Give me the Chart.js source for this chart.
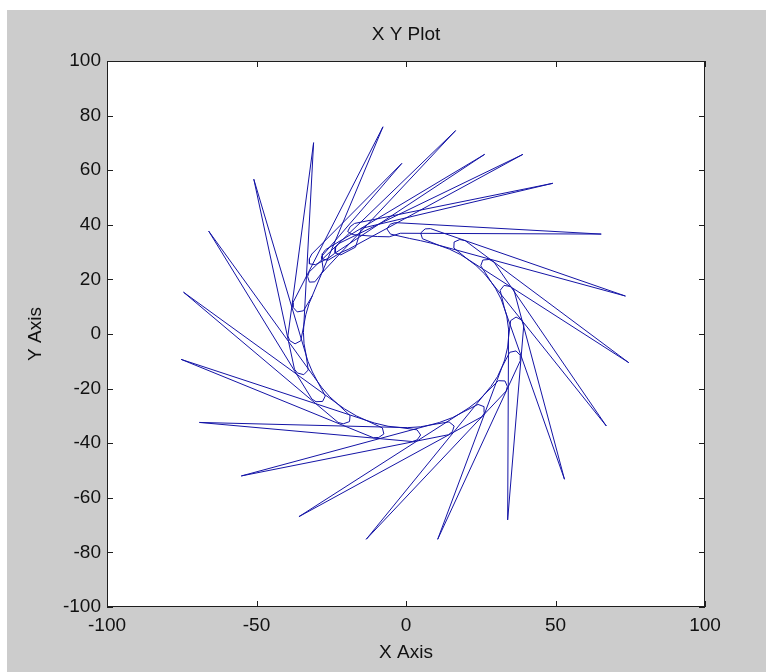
<!DOCTYPE html>
<html>
<head>
<meta charset="utf-8">
<title>X Y Plot</title>
<script src="https://cdn.jsdelivr.net/npm/chart.js@4/dist/chart.umd.min.js"></script>
<style>
  html, body { margin: 0; padding: 0; background: #ffffff; }
  #plot { display: block; }
</style>
</head>
<body>
<canvas id="plot" width="766" height="672"></canvas>
<script>
// texts
const chartTitle = 'X Y Plot';
const xTitle = 'X Axis';
const yTitle = 'Y Axis';

// tick labels
const xTicks = [-100, -50, 0, 50, 100];
const yTicks = [-100, -80, -60, -40, -20, 0, 20, 40, 60, 80, 100];

// the trace, read off the picture petal by petal, clockwise:
// inner edge start, outer tip, outer edge end, rounded turn (3 pts), points on the inner circle
const xValues = [
  -28.7, 16.6, -32.4, -32.9, -32.3, -30.5, -27.6,
  -28.3, -1.4, -31.5, -32.3, -32.3, -30.3, -25.9,
  -23.9, 26.3, -26.9, -27.9, -28.0, -26.1, -21.7,
  -19.3, 39.1, -22.4, -23.5, -23.7, -21.8, -16.9,
  -14.9, 49.1, -17.2, -18.7, -19.5, -17.8, -9.6, -5.6,
  -1.9, 65.3, -3.6, -5.3, -6.4, -5.2, 1.2, 4.8,
  8.3, 73.4, 8.2, 6.4, 4.9, 5.5, 11.2, 14.5,
  18.2, 74.5, 19.8, 18.0, 16.1, 16.0, 20.6, 23.4,
  26.3, 67.0, 29.4, 27.8, 25.7, 25.0, 28.1, 30.0,
  31.8, 53.0, 36.1, 34.9, 32.8, 31.5, 32.8, 33.7,
  34.3, 34.0, 39.4, 38.7, 36.8, 35.0, 34.3, 34.0,
  33.0, 10.6, 38.3, 38.2, 36.8, 34.7, 32.0, 30.6,
  28.4, -13.3, 33.5, 33.9, 33.1, 30.9, 26.7, 24.3,
  21.1, -35.8, 25.4, 26.3, 26.1, 24.1, 18.7, 15.6,
  11.2, -55.1, 14.2, 15.5, 16.1, 14.4, 8.3, 4.8,
  0.6, -69.1, 2.1, 3.7, 4.9, 3.7, -2.4, -6.0,
  -10.6, -75.2, -10.9, -9.1, -7.4, -7.9, -13.4, -16.6,
  -20.6, -74.4, -22.7, -21.0, -18.9, -18.7, -23.0, -25.5,
  -28.1, -66.0, -31.5, -30.1, -27.9, -27.0, -29.7, -31.3,
  -32.8, -50.9, -37.3, -36.3, -34.2, -32.7, -33.5, -34.1,
  -34.3, -30.9, -39.5, -38.9, -37.1, -35.2, -34.1, -33.5,
  -32.4, -7.7, -37.8, -37.8, -36.4, -34.3, -31.3
];
const yValues = [
  21.7, 74.5, 22.7, 21.0, 19.0, 19.1, 23.1,
  28.3, 62.5, 29.3, 27.6, 25.7, 25.4, 27.8,
  29.5, 65.8, 30.9, 29.4, 27.5, 27.0, 29.9,
  31.0, 65.8, 33.2, 31.8, 29.7, 29.0, 31.8,
  38.7, 55.2, 40.5, 39.3, 37.5, 36.4, 35.7, 35.6,
  36.9, 36.6, 40.8, 40.2, 38.5, 36.6, 35.0, 34.2,
  33.3, 13.9, 38.6, 38.5, 37.0, 34.9, 32.4, 31.1,
  29.1, -10.5, 34.2, 34.6, 33.7, 31.5, 27.4, 25.1,
  22.0, -33.7, 26.4, 27.3, 27.1, 25.0, 19.7, 16.6,
  12.8, -53.2, 16.1, 17.4, 17.8, 16.0, 10.0, 6.5,
  1.8, -68.1, 3.4, 5.1, 6.2, 4.9, -1.2, -4.8,
  -9.5, -75.2, -9.6, -7.8, -6.2, -6.7, -12.3, -15.6,
  -19.2, -75.2, -20.9, -19.2, -17.2, -17.1, -21.6, -24.3,
  -27.0, -66.9, -30.3, -28.8, -26.6, -25.8, -28.8, -30.6,
  -32.4, -52.0, -36.9, -35.8, -33.7, -32.2, -33.3, -34.0,
  -34.3, -32.4, -39.4, -38.8, -37.0, -35.1, -34.2, -33.8,
  -32.6, -9.3, -38.0, -37.9, -36.6, -34.4, -31.6, -30.0,
  -27.4, 15.3, -32.4, -32.9, -32.1, -29.9, -25.5, -23.0,
  -19.7, 37.7, -23.8, -24.8, -24.7, -22.7, -17.2, -13.9,
  -10.0, 56.7, -12.9, -14.3, -14.9, -13.2, -7.1, -3.6,
  0.6, 70.1, -0.7, -2.4, -3.6, -2.5, 3.6, 7.1,
  11.2, 75.9, 11.5, 9.8, 8.1, 8.5, 14.0
];

const lineColor = '#1414a6';
const textColor = '#111111';
const labelFont = { family: '"Liberation Sans", Arial, sans-serif', size: 19 };

// gray figure, white axes, box and inward ticks like the original
const figurePlugin = {
    id: 'figure',
    beforeDraw(chart) {
        const ctx = chart.ctx;
        const a = chart.chartArea;
        ctx.save();
        ctx.fillStyle = '#ffffff';
        ctx.fillRect(0, 0, chart.width, chart.height);
        ctx.fillStyle = '#cccccc';
        ctx.fillRect(7, 10, chart.width - 7, chart.height - 10);
        ctx.fillStyle = '#ffffff';
        ctx.fillRect(a.left, a.top, a.right - a.left, a.bottom - a.top);
        ctx.restore();
    },
    afterDraw(chart) {
        const ctx = chart.ctx;
        const a = chart.chartArea;
        const xs = chart.scales.x;
        const ys = chart.scales.y;
        const tick = 6;
        ctx.save();
        ctx.strokeStyle = '#1e1e1e';
        ctx.lineWidth = 1;
        ctx.strokeRect(a.left + 0.5, a.top + 0.5, a.right - a.left - 1, a.bottom - a.top - 1);
        ctx.beginPath();
        xTicks.forEach(v => {
            const px = Math.round(xs.getPixelForValue(v)) + 0.5;
            ctx.moveTo(px, a.bottom);
            ctx.lineTo(px, a.bottom - tick);
            ctx.moveTo(px, a.top);
            ctx.lineTo(px, a.top + tick);
        });
        yTicks.forEach(v => {
            const py = Math.round(ys.getPixelForValue(v)) + 0.5;
            ctx.moveTo(a.left, py);
            ctx.lineTo(a.left + tick, py);
            ctx.moveTo(a.right, py);
            ctx.lineTo(a.right - tick, py);
        });
        ctx.stroke();

        ctx.fillStyle = textColor;
        ctx.font = labelFont.size + 'px ' + labelFont.family;
        ctx.textAlign = 'center';
        ctx.textBaseline = 'middle';
        ctx.fillText(chartTitle, (a.left + a.right) / 2, 35);
        ctx.restore();
    }
};

const points = xValues.map((x, i) => ({ x: x, y: yValues[i] }));

new Chart(document.getElementById('plot').getContext('2d'), {
    type: 'scatter',
    data: {
        datasets: [{
            data: points,
            showLine: true,
            borderColor: lineColor,
            borderWidth: 1,
            pointRadius: 0,
            tension: 0,
            fill: false
        }]
    },
    options: {
        responsive: false,
        animation: false,
        devicePixelRatio: 1,
        layout: { padding: { top: 61, right: 61, left: 0, bottom: 0 } },
        plugins: {
            legend: { display: false },
            tooltip: { enabled: false },
            title: { display: false }
        },
        scales: {
            x: {
                type: 'linear',
                min: -100,
                max: 100,
                afterBuildTicks: s => { s.ticks = xTicks.map(v => ({ value: v })); },
                afterFit: s => { s.height = 65; },
                grid: { display: false, drawTicks: false },
                border: { display: false },
                ticks: { font: labelFont, color: textColor, padding: 7, maxRotation: 0, autoSkip: false },
                title: { display: true, text: xTitle, font: labelFont, color: textColor, padding: { top: 0, bottom: 8 } }
            },
            y: {
                type: 'linear',
                min: -100,
                max: 100,
                afterBuildTicks: s => { s.ticks = yTicks.map(v => ({ value: v })); },
                afterFit: s => { s.width = 107; },
                grid: { display: false, drawTicks: false },
                border: { display: false },
                ticks: { font: labelFont, color: textColor, padding: 6, autoSkip: false },
                title: { display: true, text: yTitle, font: labelFont, color: textColor, padding: { top: 24, bottom: 0 } }
            }
        }
    },
    plugins: [figurePlugin]
});
</script>
</body>
</html>
